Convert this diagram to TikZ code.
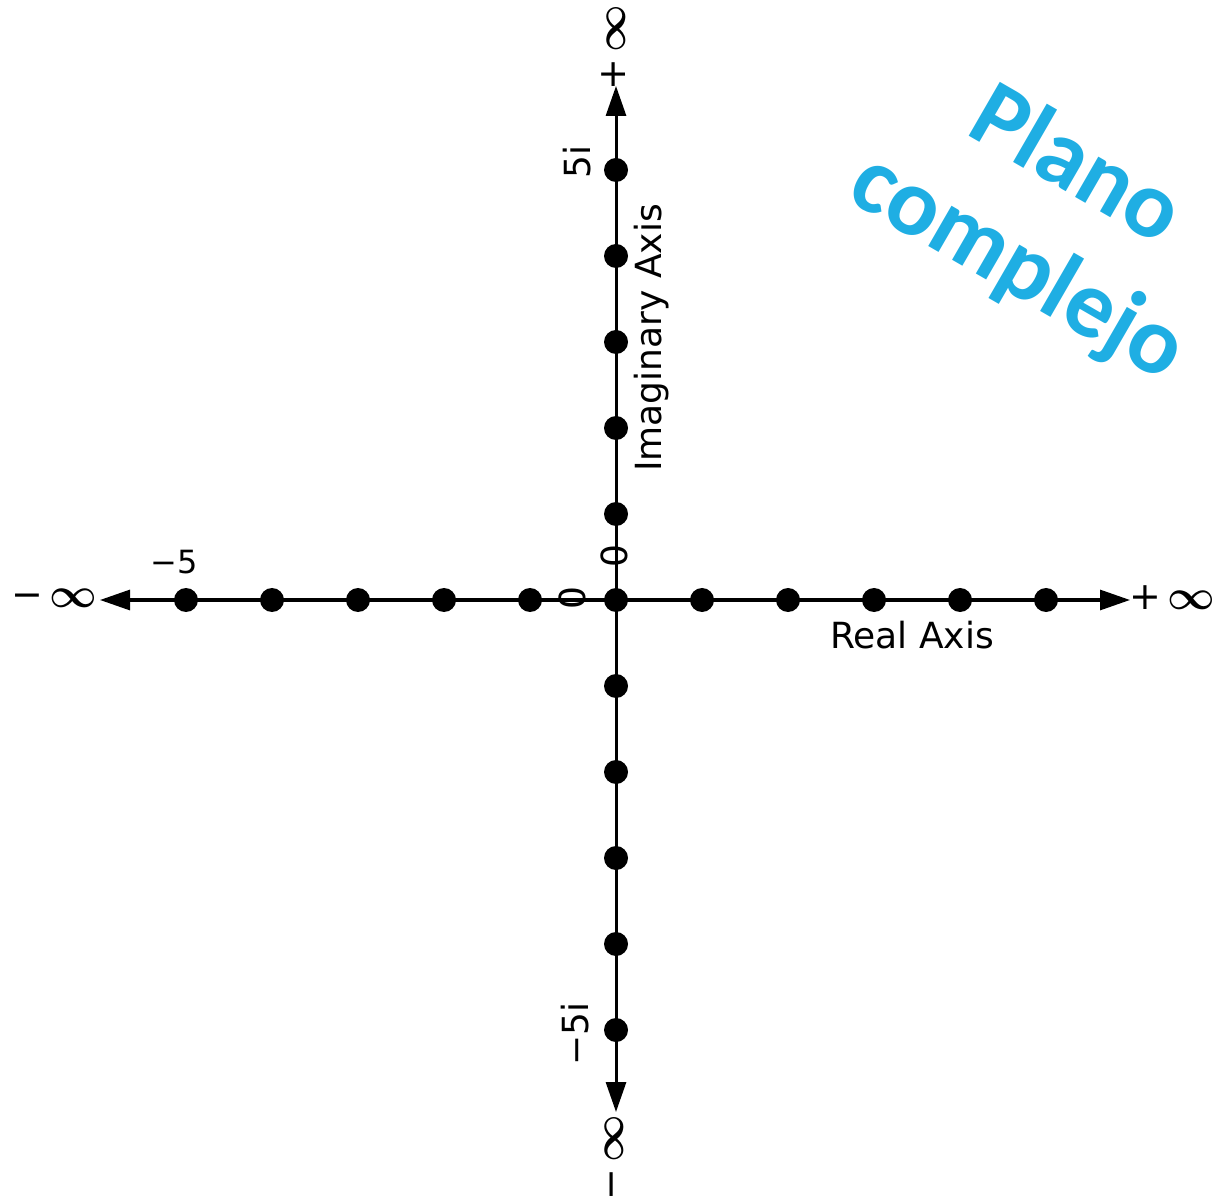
\documentclass[tikz,border=0pt]{standalone}
\usepackage{fontspec}
\setmainfont{DejaVu Sans}
\newfontfamily\titlefont{Carlito}
\usetikzlibrary{arrows.meta, positioning}
\definecolor{planoblue}{HTML}{1FAEE3}
\newcommand{\bigINF}{{\fontsize{21}{21}\selectfont$\boldsymbol{\infty}$}}
\usepackage{amsmath,amssymb}
\tikzset{
  axis/.style  = {line width=1.5pt,
                  {Triangle[length=15pt, width=10pt]}-{Triangle[length=15pt, width=10pt]}},
  dot/.style   = {circle, fill=black, inner sep=0pt, minimum size=12pt},
  lbl/.style   = {inner sep=0pt, font=\fontsize{18}{20}\selectfont},
  num/.style   = {inner sep=0pt, font=\fontsize{16}{18}\selectfont},
  inf/.style   = {inner sep=0pt, font=\fontsize{19}{22}\selectfont},
  title/.style = {inner sep=0pt, align=center, text=planoblue, rotate=-30,
                  font=\titlefont\bfseries\fontsize{48}{58}\selectfont},
}

\begin{document}
\begin{tikzpicture}[x=0.5pt, y=-0.5pt]
  \useasboundingbox (0,0) rectangle (1230,1202);
  % axes
  \coordinate (O)    at (616,600);
  \coordinate (xneg) at (100,600);
  \coordinate (xpos) at (1130,600);
  \coordinate (ypos) at (616,86);
  \coordinate (yneg) at (616,1112);
  \draw[axis] (xneg) -- (xpos);
  \draw[axis] (yneg) -- (ypos);
  % integer points
  \node[dot] (o) at (O) {};
  \foreach \k in {1,...,5} {
    \node[dot] (xp\k) at (616+86*\k,600) {};
    \node[dot] (xn\k) at (616-86*\k,600) {};
    \node[dot] (yp\k) at (616,600-86*\k) {};
    \node[dot] (yn\k) at (616,600+86*\k) {};
  }
  % labels
  \node[inf] (minf)  at (54,598)  {−\,\bigINF};
  \node[inf] (pinf)  at (1172,598) {+\,\bigINF};
  \node[inf, rotate=90] (pinfy) at (614,48) {+\,\bigINF};
  \node[inf, rotate=90] (minfy) at (614,1158) {−\,\bigINF};
  \node[num] (m5)  at (174,562) {−5};
  \node[lbl, rotate=90] (p5i) at (577,162) {5i};
  \node[lbl, rotate=90] (m5i) at (575,1034) {−5i};
  \node[lbl, rotate=90] (zx)  at (572,598) {0};
  \node[lbl, rotate=90] (zy)  at (614,556) {0};
  \node[lbl, rotate=90] (imag) at (652,338) {Imaginary Axis};
  \node[lbl] (real) at (912,635) {Real Axis};
  % title
  \node[title] (plano) at (1046,218) {Plano\\complejo};
\end{tikzpicture}
\end{document}
